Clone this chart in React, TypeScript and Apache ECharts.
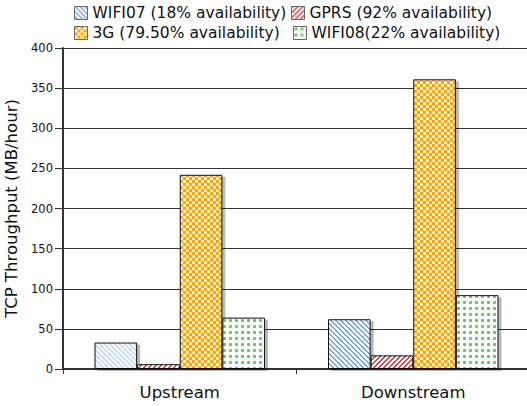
import React, { useEffect, useRef } from "react";
import * as echarts from "echarts";

const categories = ["Upstream", "Downstream"];
const seriesNames = [
  "WIFI07 (18% availability)",
  "GPRS (92% availability)",
  "3G (79.50% availability)",
  "WIFI08(22% availability)",
];
const wifi07 = [33, 62];
const gprs = [6, 17];
const g3 = [242, 361];
const wifi08 = [64, 92];

type RGB = [number, number, number];

function makeTile(w: number, h: number, fn: (x: number, y: number) => RGB) {
  const c = document.createElement("canvas");
  c.width = w;
  c.height = h;
  const ctx = c.getContext("2d")!;
  const img = ctx.createImageData(w, h);
  for (let y = 0; y < h; y++) {
    for (let x = 0; x < w; x++) {
      const [r, g, b] = fn(x, y);
      const i = (y * w + x) * 4;
      img.data[i] = r;
      img.data[i + 1] = g;
      img.data[i + 2] = b;
      img.data[i + 3] = 255;
    }
  }
  ctx.putImageData(img, 0, 0);
  return { image: c, repeat: "repeat", imageWidth: w, imageHeight: h } as any;
}

const WHITE: RGB = [255, 255, 255];

export default function App() {
  const ref = useRef<HTMLDivElement>(null);
  useEffect(() => {
    if (!ref.current) return;
    const chart = echarts.init(ref.current, undefined, { renderer: "svg" });

    const blueDark = makeTile(5, 5, (x, y) =>
      (((x - y) % 5) + 5) % 5 < 2 ? [110, 168, 236] : WHITE
    );
    const blueLight = makeTile(5, 5, (x, y) =>
      (((x - y) % 5) + 5) % 5 < 2 ? [190, 216, 245] : WHITE
    );
    const red = makeTile(5, 5, (x, y) =>
      (x + y) % 5 < 2 ? [224, 60, 60] : WHITE
    );
    const orange = makeTile(6, 6, (x, y) =>
      (Math.floor(x / 3) + Math.floor(y / 3)) % 2 === 0 ? [255, 165, 0] : [255, 240, 215]
    );
    const green = makeTile(6, 6, (x, y) => {
      const dx = Math.abs(x - 2);
      const dy = Math.abs(y - 2);
      if (dx <= 1 && dy <= 1) {
        if (dx === 1 && dy === 1) return [125, 222, 125];
        return [80, 210, 80];
      }
      return WHITE;
    });

    const font = "DejaVu Sans";
    const baseItem = {
      borderColor: "#111",
      borderWidth: 1,
      shadowColor: "rgba(0,0,0,0.28)",
      shadowOffsetX: 3,
      shadowOffsetY: 2,
      shadowBlur: 0,
    };
    const legendBase = {
      itemWidth: 13,
      itemHeight: 13,
      icon: "rect",
      textStyle: { fontFamily: font, fontSize: 15.5, color: "#111" },
      itemStyle: { borderColor: "#666", borderWidth: 1, shadowBlur: 0, shadowOffsetX: 0, shadowOffsetY: 0 },
      padding: 0,
    };

    chart.setOption({
      animation: false,
      textStyle: { fontFamily: font },
      legend: [
        { ...legendBase, data: [seriesNames[0]], left: 74, top: 5 },
        { ...legendBase, data: [seriesNames[1]], left: 291, top: 5 },
        { ...legendBase, data: [seriesNames[2]], left: 74, top: 25 },
        { ...legendBase, data: [seriesNames[3]], left: 293, top: 25 },
      ],
      grid: {
        left: 63,
        right: -3,
        top: 48,
        bottom: 37,
        containLabel: false,
        outerBoundsMode: "none",
      },
      xAxis: {
        type: "category",
        data: categories,
        axisLine: { lineStyle: { color: "#333", width: 2 } },
        axisTick: { show: true, length: 5, lineStyle: { color: "#333", width: 1 } },
        axisLabel: { fontSize: 16.5, color: "#111", margin: 15, fontFamily: font },
      },
      yAxis: {
        type: "value",
        min: 0,
        max: 400,
        interval: 50,
        name: "TCP Throughput (MB/hour)",
        nameLocation: "middle",
        nameGap: 40,
        nameRotate: 90,
        nameTextStyle: { fontSize: 16.5, color: "#111", fontFamily: font },
        axisLine: { show: true, lineStyle: { color: "#333", width: 2 } },
        axisTick: { show: true, length: 8, lineStyle: { color: "#333", width: 1 } },
        axisLabel: { fontSize: 11.5, color: "#111", margin: 10, fontFamily: font },
        splitLine: { show: true, lineStyle: { color: "#333", width: 1 } },
      },
      series: [
        {
          name: seriesNames[0],
          type: "bar",
          barGap: "0%",
          barCategoryGap: "27%",
          itemStyle: { ...baseItem, color: blueDark },
          data: wifi07.map((v, i) =>
            i === 0 ? { value: v, itemStyle: { color: blueLight } } : v
          ),
        },
        {
          name: seriesNames[1],
          type: "bar",
          itemStyle: { ...baseItem, color: red },
          data: gprs,
        },
        {
          name: seriesNames[2],
          type: "bar",
          itemStyle: { ...baseItem, color: orange },
          data: g3,
        },
        {
          name: seriesNames[3],
          type: "bar",
          itemStyle: { ...baseItem, color: green },
          data: wifi08,
        },
      ],
    });
    return () => chart.dispose();
  }, []);
  return (
    <div
      ref={ref}
      style={{ position: "absolute", left: 0, top: 0, width: 527, height: 406 }}
    />
  );
}
